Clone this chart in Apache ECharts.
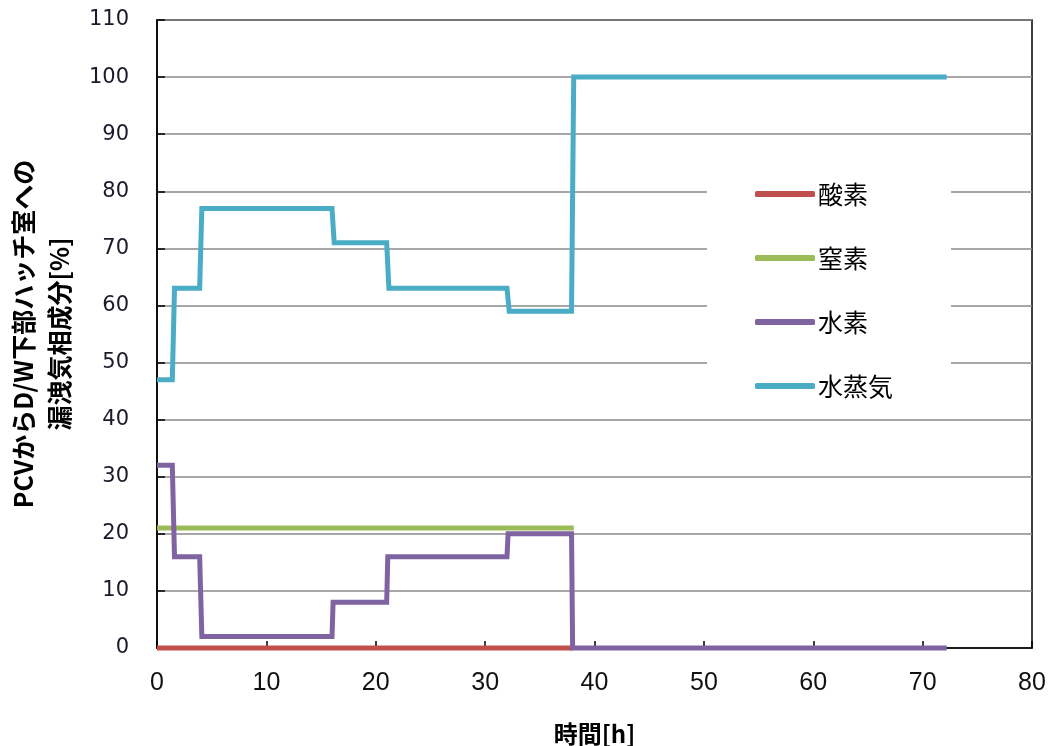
<!DOCTYPE html>
<html>
<head>
<meta charset="utf-8">
<script src="https://cdn.jsdelivr.net/npm/echarts@6/dist/echarts.min.js"></script>
<style>
html,body{margin:0;padding:0;background:#fff;}
#chart{width:1054px;height:746px;}
</style>
</head>
<body>
<div id="chart"></div>
<script>
// ---- data ----
const seriesNames = ['酸素', '窒素', '水素', '水蒸気'];
const timeO2 = [0, 38.0];
const valO2  = [0, 0];
const timeN2 = [0, 38.1];
const valN2  = [21, 21];
const timeH2 = [0, 1.4, 1.6, 3.9, 4.1, 16.0, 16.1, 21.0, 21.1, 32.0, 32.1, 37.9, 38.0, 72.2];
const valH2  = [32, 32, 16, 16, 2, 2, 8, 8, 16, 16, 20, 20, 0, 0];
const timeVap = [0, 1.4, 1.6, 3.9, 4.1, 16.0, 16.2, 21.0, 21.2, 32.0, 32.2, 37.9, 38.1, 72.2];
const valVap  = [47, 47, 63, 63, 77, 77, 71, 71, 63, 63, 59, 59, 100, 100];
const xTicks = [0, 10, 20, 30, 40, 50, 60, 70, 80];
const yTicks = [0, 10, 20, 30, 40, 50, 60, 70, 80, 90, 100, 110];
const xTitle = '時間[h]';
const yTitle = 'PCVからD/W下部ハッチ室への\n漏洩気相成分[%]';

const colors = ['#C0504D', '#9BBB59', '#8064A2', '#4BACC6'];
const pairs = (t, v) => t.map((x, i) => [x, v[i]]);
const allData = [pairs(timeO2, valO2), pairs(timeN2, valN2), pairs(timeH2, valH2), pairs(timeVap, valVap)];

const chart = echarts.init(document.getElementById('chart'));
const jp = "'Noto Sans CJK JP', 'Noto Sans', sans-serif";
chart.setOption({
  animation: false,
  backgroundColor: '#fff',
  color: colors,
  grid: {
    left: 157, right: 22, top: 20, bottom: 98,
    outerBoundsMode: 'none', containLabel: false,
    show: true, borderColor: '#000', borderWidth: 1.5, backgroundColor: 'transparent'
  },
  legend: {
    orient: 'vertical',
    left: 707, top: 150,
    padding: [29, 58, 9, 48],
    backgroundColor: '#fff',
    itemWidth: 60, itemHeight: 6, itemGap: 34,
    icon: 'roundRect',
    data: seriesNames,
    textStyle: { fontFamily: jp, fontSize: 25, color: '#000', lineHeight: 30, padding: [0, 0, 0, -2] }
  },
  xAxis: {
    type: 'value', min: xTicks[0], max: xTicks[xTicks.length - 1], interval: 10,
    name: xTitle, nameLocation: 'middle', nameGap: 74,
    nameTextStyle: { fontFamily: jp, fontSize: 24, fontWeight: 'bold', color: '#000' },
    axisLine: { show: true, lineStyle: { color: '#000', width: 1.5 } },
    axisTick: { show: true, inside: true, length: 7, lineStyle: { color: '#000', width: 1.5 } },
    axisLabel: { margin: 23, fontSize: 25, color: '#111', fontFamily: "'Liberation Sans Narrow', 'Liberation Sans', sans-serif" },
    splitLine: { show: false }
  },
  yAxis: {
    type: 'value', min: yTicks[0], max: yTicks[yTicks.length - 1], interval: 10,
    name: yTitle, nameLocation: 'middle', nameGap: 80, nameRotate: 90,
    nameTextStyle: { fontFamily: jp, fontSize: 25, fontWeight: 'bold', color: '#000', lineHeight: 36 },
    axisLine: { show: true, lineStyle: { color: '#000', width: 1.5 } },
    axisTick: { show: true, inside: true, length: 8, lineStyle: { color: '#000', width: 1.5 } },
    axisLabel: { margin: 28, fontSize: 21, color: '#1a1a2a', fontFamily: "'DejaVu Sans', sans-serif" },
    splitLine: { show: true, lineStyle: { color: '#8a8a8a', width: 1.5 } }
  },
  series: seriesNames.map((name, i) => ({
    name: name,
    type: 'line',
    data: allData[i],
    showSymbol: false,
    symbol: 'none',
    clip: false,
    z: 2 + i,
    lineStyle: { width: 5, color: colors[i], join: 'miter' },
    itemStyle: { color: colors[i] }
  }))
});
</script>
</body>
</html>
